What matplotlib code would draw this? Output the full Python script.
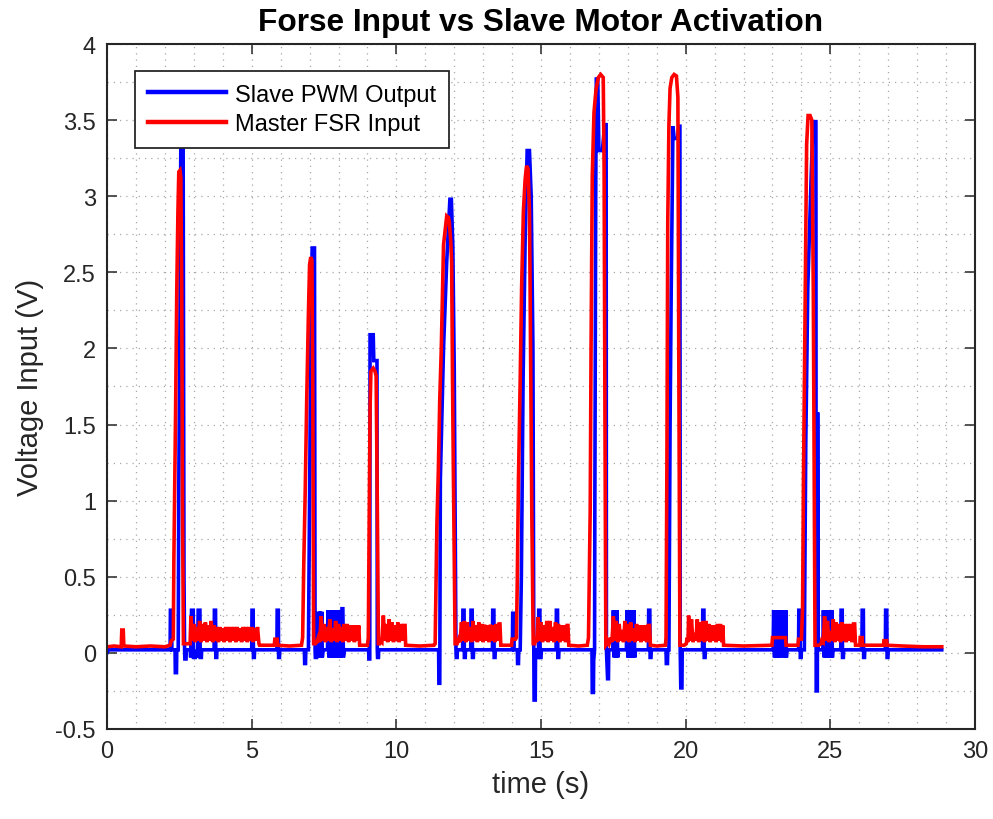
import matplotlib
matplotlib.use("Agg")
import matplotlib.pyplot as plt
from matplotlib.ticker import FuncFormatter, MultipleLocator

plt.rcParams['font.family'] = ['Liberation Sans', 'DejaVu Sans']

# Master FSR input (V) against time (s)
fsr_time = [
    0.00, 0.25, 0.49, 0.51, 0.56, 0.58, 1.00, 1.50, 2.00, 2.18,
    2.22, 2.29, 2.31, 2.34, 2.37, 2.41, 2.45, 2.48, 2.52, 2.55, 2.58, 2.61, 2.64, 2.75, 2.87,
    2.90, 2.95, 3.00, 3.05, 3.10, 3.15, 3.20, 3.25, 3.30, 3.35, 3.40, 3.45, 3.50, 3.55, 3.60, 3.65,
    3.70, 3.75, 3.80, 3.85, 3.90, 3.95, 4.00, 4.05, 4.10, 4.15, 4.20, 4.25, 4.30, 4.35, 4.40, 4.45,
    4.50, 4.55, 4.60, 4.65, 4.70, 4.75, 4.80, 4.85, 4.90, 4.95, 5.00, 5.05, 5.10, 5.15, 5.20, 5.25,
    5.27, 5.78, 5.80, 5.88, 5.90, 6.30, 6.72,
    6.76, 6.80, 6.85, 6.90, 6.96, 7.00, 7.04, 7.08, 7.11, 7.14, 7.20,
    7.25, 7.30, 7.35, 7.40, 7.45, 7.50, 7.55, 7.60, 7.65, 7.70, 7.75, 7.80, 7.85, 7.90, 7.95, 8.00,
    8.05, 8.10, 8.15, 8.20, 8.25, 8.30, 8.35, 8.40, 8.45, 8.50, 8.55, 8.60, 8.65, 8.70,
    8.73, 9.00,
    9.03, 9.06, 9.09, 9.12, 9.20, 9.26, 9.30, 9.34, 9.38,
    9.42, 9.45, 9.50, 9.55, 9.60, 9.65, 9.70, 9.75, 9.80, 9.85, 9.90, 9.95, 10.00, 10.05, 10.10,
    10.15, 10.20, 10.25, 10.30,
    10.32, 10.80, 11.30,
    11.34, 11.40, 11.45, 11.50, 11.55, 11.60, 11.63, 11.70, 11.74, 11.80, 11.83, 11.88, 11.91,
    11.94, 11.97, 12.03,
    12.10, 12.15, 12.20, 12.25, 12.30, 12.35, 12.40, 12.45, 12.50, 12.55, 12.60, 12.65, 12.70,
    12.75, 12.80, 12.85, 12.90, 12.95, 13.00, 13.05, 13.10, 13.15, 13.20, 13.25, 13.30, 13.35,
    13.40, 13.45, 13.50, 13.55, 13.58,
    13.61, 13.98, 14.00, 14.12,
    14.15, 14.18, 14.22, 14.28, 14.33, 14.39, 14.45, 14.50, 14.55, 14.60, 14.62, 14.68, 14.73,
    14.78, 14.80, 14.85, 14.90, 14.95, 15.00, 15.05, 15.10, 15.15, 15.20, 15.25, 15.30, 15.35,
    15.40, 15.45, 15.50, 15.55, 15.60, 15.65, 15.70, 15.75, 15.80, 15.85, 15.90, 15.93,
    15.96, 16.30, 16.60,
    16.64, 16.70, 16.73, 16.77, 16.83, 16.90, 16.98, 17.06, 17.15, 17.18, 17.21, 17.24,
    17.28, 17.30, 17.35, 17.40, 17.45, 17.50, 17.55, 17.60, 17.65, 17.70, 17.75, 17.80, 17.85,
    17.90, 17.95, 18.00, 18.05, 18.10, 18.15, 18.20, 18.25, 18.30, 18.35, 18.40, 18.45, 18.50,
    18.55, 18.60, 18.65, 18.70, 18.75,
    18.78, 19.00, 19.30,
    19.32, 19.35, 19.38, 19.42, 19.46, 19.52, 19.60, 19.68, 19.73, 19.76, 19.80, 19.95,
    20.02, 20.05, 20.08, 20.10, 20.15, 20.20, 20.25, 20.30, 20.35, 20.40, 20.45, 20.50, 20.55,
    20.60, 20.65, 20.70, 20.75, 20.80, 20.85, 20.90, 20.95, 21.00, 21.05, 21.10, 21.15, 21.20,
    21.25, 21.28,
    21.31, 22.00, 22.98, 23.00, 23.45, 23.47, 23.88, 23.90, 24.00,
    24.04, 24.07, 24.12, 24.18, 24.23, 24.30, 24.36, 24.41, 24.47, 24.60,
    24.68, 24.70, 24.75, 24.80, 24.85, 24.90, 24.95, 25.00, 25.05, 25.10, 25.15, 25.20, 25.25,
    25.30, 25.35, 25.40, 25.45, 25.50, 25.55, 25.60, 25.65, 25.70, 25.75, 25.80, 25.84,
    25.87, 26.02, 26.03, 26.10, 26.11, 26.84, 26.85, 26.95, 26.96, 27.50, 28.20, 28.85,
]
fsr_volts = [
    0.04, 0.045, 0.04, 0.15, 0.15, 0.045, 0.04, 0.045, 0.04, 0.05,
    0.08, 0.09, 0.62, 1.10, 1.60, 2.38, 2.90, 3.16, 3.17, 3.12, 2.40, 0.90, 0.06, 0.06, 0.06,
    0.24, 0.08, 0.19, 0.07, 0.17, 0.08, 0.21, 0.07, 0.19, 0.08, 0.20, 0.07, 0.18, 0.08, 0.21, 0.07,
    0.18, 0.08, 0.17, 0.07, 0.17, 0.08, 0.16, 0.07, 0.17, 0.08, 0.17, 0.07, 0.17, 0.08, 0.17, 0.07,
    0.17, 0.08, 0.16, 0.07, 0.17, 0.08, 0.17, 0.07, 0.17, 0.08, 0.17, 0.07, 0.16, 0.08, 0.17, 0.06,
    0.05, 0.05, 0.09, 0.09, 0.05, 0.045, 0.05,
    0.10, 0.59, 1.07, 1.65, 2.23, 2.55, 2.60, 2.58, 1.80, 0.06, 0.06,
    0.07, 0.10, 0.07, 0.24, 0.08, 0.19, 0.07, 0.17, 0.08, 0.22, 0.07, 0.16, 0.08, 0.21, 0.07, 0.19,
    0.08, 0.17, 0.07, 0.19, 0.08, 0.19, 0.07, 0.18, 0.08, 0.18, 0.07, 0.18, 0.08, 0.18,
    0.05, 0.05,
    0.10, 0.90, 1.60, 1.85, 1.87, 1.85, 1.82, 1.00, 0.06,
    0.06, 0.08, 0.07, 0.245, 0.08, 0.19, 0.07, 0.22, 0.08, 0.20, 0.07, 0.18, 0.08, 0.20, 0.07,
    0.19, 0.08, 0.18, 0.18,
    0.05, 0.045, 0.05,
    0.06, 0.84, 1.19, 1.67, 1.98, 2.40, 2.68, 2.80, 2.87, 2.86, 2.83, 2.70, 2.57,
    1.80, 1.19, 0.06,
    0.06, 0.09, 0.07, 0.20, 0.08, 0.21, 0.07, 0.20, 0.08, 0.17, 0.07, 0.21, 0.08,
    0.18, 0.07, 0.20, 0.08, 0.19, 0.07, 0.185, 0.08, 0.18, 0.07, 0.185, 0.08, 0.18,
    0.07, 0.19, 0.08, 0.19, 0.19,
    0.05, 0.05, 0.09, 0.09,
    0.10, 0.49, 1.14, 1.80, 2.41, 2.90, 3.11, 3.20, 3.18, 2.90, 2.45, 0.93, 0.06,
    0.06, 0.10, 0.07, 0.235, 0.08, 0.20, 0.07, 0.18, 0.08, 0.21, 0.07, 0.21, 0.08,
    0.17, 0.07, 0.20, 0.08, 0.19, 0.07, 0.18, 0.08, 0.18, 0.07, 0.18, 0.18,
    0.05, 0.045, 0.05,
    0.10, 0.95, 2.03, 3.13, 3.55, 3.70, 3.78, 3.80, 3.78, 3.18, 1.50, 0.05,
    0.06, 0.08, 0.06, 0.10, 0.07, 0.24, 0.08, 0.21, 0.07, 0.19, 0.08, 0.15, 0.07,
    0.21, 0.08, 0.19, 0.07, 0.20, 0.08, 0.16, 0.07, 0.19, 0.08, 0.18, 0.07, 0.18,
    0.08, 0.18, 0.07, 0.18, 0.18,
    0.05, 0.045, 0.05,
    0.10, 1.22, 2.83, 3.47, 3.71, 3.78, 3.80, 3.79, 3.65, 2.00, 0.05, 0.05,
    0.06, 0.10, 0.07, 0.245, 0.08, 0.22, 0.07, 0.13, 0.08, 0.22, 0.07, 0.20, 0.08,
    0.21, 0.07, 0.21, 0.08, 0.19, 0.07, 0.18, 0.08, 0.18, 0.07, 0.19, 0.08, 0.19,
    0.07, 0.18,
    0.05, 0.045, 0.05, 0.10, 0.10, 0.05, 0.05, 0.09, 0.09,
    0.30, 1.12, 2.13, 3.34, 3.53, 3.53, 3.50, 2.38, 0.05, 0.05,
    0.06, 0.08, 0.07, 0.24, 0.08, 0.21, 0.07, 0.14, 0.08, 0.22, 0.07, 0.20, 0.08,
    0.19, 0.07, 0.20, 0.08, 0.19, 0.07, 0.19, 0.08, 0.19, 0.07, 0.19, 0.19,
    0.05, 0.05, 0.10, 0.10, 0.05, 0.05, 0.08, 0.08, 0.05, 0.045, 0.04, 0.04,
]

# Slave PWM output (V) against time (s)
pwm_time = [
    0.00, 0.05, 1.00, 2.00, 2.18,
    2.19, 2.23, 2.24,
    2.35, 2.36, 2.40, 2.41, 2.46, 2.48, 2.52, 2.55, 2.63, 2.66, 2.68, 2.69, 2.73, 2.74,
    2.88, 2.89, 2.92, 2.98, 2.99, 3.05, 3.07, 3.13, 3.15, 3.21, 3.22, 3.26, 3.27,
    3.70, 3.71, 3.75, 3.76, 3.79, 3.80,
    5.00, 5.01, 5.05, 5.06, 5.09, 5.10,
    5.87, 5.88, 5.92, 5.93, 5.96, 5.97,
    6.82, 6.83, 6.86, 6.87,
    6.96, 7.00, 7.04, 7.09, 7.17, 7.19, 7.20, 7.24, 7.25,
    7.29, 7.30, 7.33, 7.36, 7.39, 7.42, 7.44, 7.47,
    7.62, 7.64, 7.67, 7.70, 7.73, 7.76, 7.79, 7.82, 7.85, 7.88, 7.91, 7.94, 7.97, 8.00, 8.03,
    8.06, 8.09, 8.12, 8.15, 8.17, 8.20,
    9.04, 9.05, 9.08, 9.09, 9.20, 9.22, 9.33, 9.34, 9.35, 9.38, 9.39,
    11.46, 11.47, 11.50, 11.52, 11.63, 11.74, 11.85, 11.90, 11.95, 12.00, 12.03, 12.06, 12.07,
    12.10, 12.11,
    12.29, 12.30, 12.34, 12.35, 12.38, 12.39,
    12.57, 12.58, 12.62, 12.63, 12.66, 12.67,
    13.32, 13.33, 13.37, 13.38, 13.41, 13.42,
    14.01, 14.02, 14.06, 14.07,
    14.18, 14.19, 14.22, 14.23,
    14.28, 14.32, 14.38, 14.45, 14.52, 14.60, 14.66, 14.72, 14.75, 14.76, 14.80, 14.81,
    14.87, 14.88, 14.91, 14.92, 14.96, 14.97, 15.00, 15.01,
    15.52, 15.53, 15.57, 15.58, 15.61, 15.62,
    16.76, 16.77, 16.81, 16.82, 16.85,
    16.86, 16.89, 16.91, 16.96, 17.00, 17.12, 17.20, 17.25, 17.26, 17.30, 17.33, 17.34,
    17.48, 17.50, 17.53, 17.56, 17.59, 17.62, 17.65, 17.67,
    17.95, 17.97, 18.00, 18.03, 18.06, 18.09, 18.12, 18.15, 18.18, 18.21, 18.24, 18.26,
    18.71, 18.72, 18.76, 18.77, 18.80, 18.81,
    19.32, 19.33, 19.37, 19.38,
    19.42, 19.46, 19.50, 19.56, 19.60, 19.72, 19.76, 19.80, 19.81, 19.83, 19.87, 19.88,
    20.58, 20.59, 20.63, 20.64, 20.67, 20.68,
    23.02, 23.04, 23.07, 23.10, 23.13, 23.16, 23.19, 23.22, 23.25, 23.28,
    23.32, 23.34, 23.37, 23.40, 23.43, 23.46, 23.48, 23.50,
    23.90, 23.91, 23.95, 23.96, 23.99, 24.00,
    24.10, 24.15, 24.22, 24.33, 24.40, 24.50, 24.51, 24.55, 24.56, 24.58,
    24.74, 24.76, 24.79, 24.82, 24.85, 24.88, 24.91, 24.94, 24.97, 25.00, 25.03, 25.05, 25.07,
    25.09,
    25.36, 25.37, 25.41, 25.42, 25.45, 25.46,
    26.09, 26.10, 26.14, 26.15, 26.18, 26.19,
    26.90, 26.91, 26.95, 26.96, 26.99, 27.00,
    28.85,
]
pwm_volts = [
    0.00, 0.02, 0.02, 0.02, 0.02,
    0.28, 0.28, 0.02,
    0.02, -0.13, -0.13, 0.02, 0.02, 1.10, 2.20, 3.36, 3.36, 0.50, 0.02, -0.04, -0.04, 0.02,
    0.02, -0.03, 0.28, 0.28, -0.03, -0.03, 0.02, -0.03, 0.28, 0.28, -0.03, -0.03, 0.02,
    0.02, 0.28, 0.28, -0.03, -0.03, 0.02,
    0.02, 0.28, 0.28, -0.03, -0.03, 0.02,
    0.02, 0.28, 0.28, -0.03, -0.03, 0.02,
    0.02, -0.07, -0.07, 0.02,
    0.02, 1.05, 2.00, 2.66, 2.66, 0.02, -0.03, -0.03, 0.02,
    0.02, 0.27, -0.03, 0.27, -0.03, 0.27, -0.03, 0.02,
    0.02, 0.28, -0.03, 0.28, -0.03, 0.28, -0.03, 0.28, -0.03, 0.28, -0.03, 0.28, -0.03, 0.28, -0.03,
    0.28, -0.03, 0.29, 0.29, -0.03, 0.02,
    0.02, -0.04, -0.04, 2.09, 2.09, 1.92, 1.92, 0.02, -0.03, -0.03, 0.02,
    0.02, -0.20, -0.20, 1.14, 2.00, 2.57, 2.98, 2.98, 2.68, 1.87, 1.00, 0.02, -0.03,
    -0.03, 0.02,
    0.02, 0.28, 0.28, -0.03, -0.03, 0.02,
    0.02, 0.28, 0.28, -0.03, -0.03, 0.02,
    0.02, 0.28, 0.28, -0.03, -0.03, 0.02,
    0.02, 0.26, 0.26, 0.02,
    0.02, -0.07, -0.07, 0.02,
    0.02, 0.50, 1.80, 2.70, 3.30, 3.30, 3.00, 2.00, 0.02, -0.31, -0.31, 0.02,
    0.02, -0.03, -0.03, 0.28, 0.28, -0.03, -0.03, 0.02,
    0.02, 0.28, 0.28, -0.03, -0.03, 0.02,
    0.02, -0.26, -0.26, -0.05, 0.02,
    1.00, 3.00, 3.77, 3.77, 3.30, 3.30, 3.47, 3.47, 0.02, -0.17, -0.17, 0.02,
    0.02, 0.28, -0.03, 0.28, -0.03, 0.28, -0.03, 0.02,
    0.02, 0.28, -0.03, 0.28, -0.03, 0.28, -0.03, 0.28, -0.03, 0.28, -0.03, 0.02,
    0.02, 0.28, 0.28, -0.03, -0.03, 0.02,
    0.02, -0.07, -0.07, 0.02,
    0.02, 1.50, 2.40, 3.46, 3.38, 3.38, 3.46, 3.46, 0.02, -0.23, -0.23, 0.02,
    0.02, 0.28, 0.28, -0.03, -0.03, 0.02,
    0.02, 0.28, -0.03, 0.28, -0.03, 0.28, -0.03, 0.28, -0.03, 0.02,
    0.02, 0.28, -0.03, 0.28, -0.03, 0.28, -0.03, 0.02,
    0.02, 0.28, 0.28, -0.03, -0.03, 0.02,
    0.02, 1.37, 2.40, 3.09, 3.49, 3.49, -0.25, -0.25, 1.58, 0.02,
    0.02, 0.28, -0.03, 0.28, -0.03, 0.28, -0.03, 0.28, -0.03, 0.28, -0.03, 0.28, -0.03,
    0.02,
    0.02, 0.28, 0.28, -0.03, -0.03, 0.02,
    0.02, 0.28, 0.28, -0.03, -0.03, 0.02,
    0.02, 0.28, 0.28, -0.03, -0.03, 0.02,
    0.02,
]

x_ticks = [0, 5, 10, 15, 20, 25, 30]
y_ticks = [-0.5, 0, 0.5, 1, 1.5, 2, 2.5, 3, 3.5, 4]

fig = plt.figure(figsize=(9.93, 8.2), dpi=100)
ax = fig.add_axes([0.1078, 0.1098, 0.8741, 0.8353])

ax.plot(pwm_time, pwm_volts, color='#0000ff', lw=2.6, label='Slave PWM Output',
        solid_joinstyle='miter')
ax.plot(fsr_time, fsr_volts, color='#ff0000', lw=2.6, label='Master FSR Input',
        solid_joinstyle='miter')

ax.set_xlim(0, 30)
ax.set_ylim(-0.5, 4)
ax.set_xticks(x_ticks)
ax.set_yticks(y_ticks)
ax.xaxis.set_minor_locator(MultipleLocator(1))
ax.yaxis.set_minor_locator(MultipleLocator(0.25))
fmt = FuncFormatter(lambda v, p: '%g' % v)
ax.xaxis.set_major_formatter(fmt)
ax.yaxis.set_major_formatter(fmt)

ax.grid(True, which='both', color='#a8a8a8', lw=0.9, linestyle=(0, (1, 4)))
ax.set_axisbelow(True)

ax.tick_params(which='major', direction='in', length=7, width=1.1, color='#262626',
               top=True, right=True, labelsize=17, pad=8, labelcolor='#262626')
ax.tick_params(which='minor', length=0, top=True, right=True)
for s in ax.spines.values():
    s.set_linewidth(1.5)
    s.set_color('#262626')

ax.set_xlabel('time (s)', fontsize=21, color='#262626', labelpad=6)
ax.set_ylabel('Voltage Input (V)', fontsize=21, color='#262626', labelpad=8)
ax.set_title('Forse Input vs Slave Motor Activation', fontsize=22.8, fontweight='bold',
             pad=10)

leg = ax.legend(loc='upper left', bbox_to_anchor=(0.032, 0.961), borderaxespad=0,
                fontsize=17, fancybox=False, framealpha=1, edgecolor='#262626',
                handlelength=3.3, handletextpad=0.4, labelspacing=0.3, borderpad=0.55)
leg.get_frame().set_linewidth(1.3)
for line in leg.get_lines():
    line.set_linewidth(3.2)

fig.savefig('out.png', dpi=100)
